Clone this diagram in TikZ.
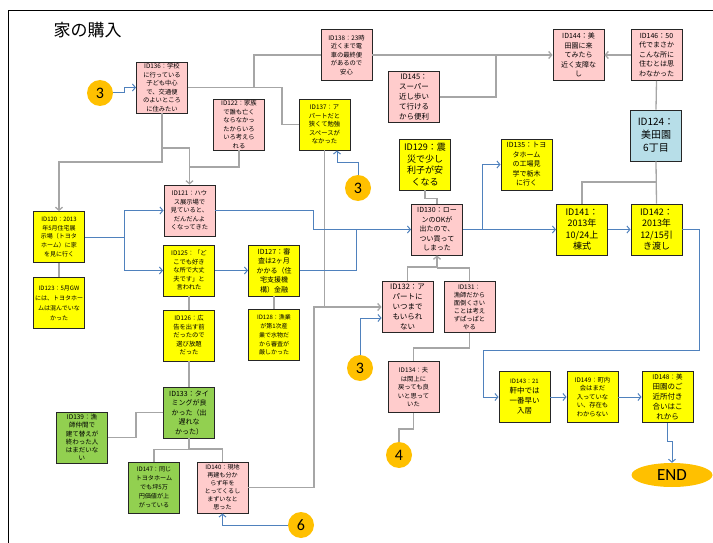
\documentclass[tikz,border=0pt]{standalone}
\usepackage{fontspec}
\setmainfont{Noto Sans CJK JP}
\newfontfamily\calfont{Carlito}
\usetikzlibrary{arrows.meta,shapes.geometric}
\definecolor{boxpink}{HTML}{FFCCCC}
\definecolor{boxyellow}{HTML}{FFFF00}
\definecolor{boxgreen}{HTML}{92D050}
\definecolor{boxblue}{HTML}{B7DEE8}
\definecolor{numorange}{HTML}{FFC000}
\definecolor{linegray}{HTML}{A6A6A6}
\definecolor{lineblue}{HTML}{4F81BD}

\begin{document}
\begin{tikzpicture}[x=1pt,y=-1pt,
    >={Straight Barb[length=3pt,width=7pt]},
    box/.style={draw=black!85, line width=0.9pt, minimum width=51pt, minimum height=51pt,
        inner sep=0.5pt, align=center, font=\fontsize{6.3}{8.5}\selectfont},
    pinkbox/.style={box, fill=boxpink},
    yellowbox/.style={box, fill=boxyellow},
    greenbox/.style={box, fill=boxgreen},
    bluebox/.style={box, fill=boxblue},
    fmid/.style={font=\fontsize{7.5}{10}\selectfont},
    fbig/.style={font=\fontsize{9}{11.5}\selectfont},
    num/.style={circle, fill=numorange, minimum size=26pt, inner sep=0pt,
        font=\calfont\fontsize{16}{16}\selectfont},
    gline/.style={draw=linegray, line width=1.3pt},
    bline/.style={draw=lineblue, line width=1pt}]
    \useasboundingbox (0,0) rectangle (713,543);

    % Frame and title
    \draw[line width=1pt] (8,543) -- (8,11) -- (713,11);
    \node[anchor=west, font=\fontsize{17}{17}\selectfont] (title) at (50,30) {家の購入};

    % Top row
    \node[pinkbox] (id136) at (162,87.5) {ID136：学校\\に行っている\\子ども中心\\で、交通便\\のよいところ\\に住みたい};
    \node[pinkbox] (id138) at (346.5,55) {ID138：23時\\近くまで電\\車の最終便\\があるので\\安心};
    \node[pinkbox, fmid] (id145) at (414,97) {ID145：\\スーパー\\近し歩い\\て行ける\\から便利};
    \node[pinkbox] (id122) at (239,124.5) {ID122：家族\\で誰も亡く\\ならなかっ\\たからいろ\\いろ考えら\\れる};
    \node[yellowbox] (id137) at (324.5,124.5) {ID137：ア\\パートだと\\狭くて勉強\\スペースが\\なかった};
    \node[pinkbox, font=\fontsize{7}{9.5}\selectfont] (id144) at (578.5,55) {ID144：美\\田園に来\\てみたら\\近く支障な\\し};
    \node[pinkbox, font=\fontsize{7}{9.5}\selectfont] (id146) at (656.5,55) {ID146：50\\代でまさか\\こんな所に\\住むとは思\\わなかった};
    \node[bluebox, font=\fontsize{10}{13}\selectfont] (id124) at (656,135.5) {ID124：\\美田園\\6丁目};
    \node[yellowbox, fbig] (id129) at (425,164.5) {ID129：震\\災で少し\\利子が安\\くなる};
    \node[yellowbox, font=\fontsize{7}{9.5}\selectfont] (id135) at (526.5,164.5) {ID135：トヨ\\タホーム\\の工場見\\学で栃木\\に行く};

    % Middle rows
    \node[yellowbox, font=\fontsize{6}{8.8}\selectfont] (id120) at (59,237) {ID120：2013\\年5月住宅展\\示場（トヨタ\\ホーム）に家\\を見に行く};
    \node[yellowbox, font=\fontsize{6}{10}\selectfont] (id123) at (59,303) {ID123：5月GW\\には、トヨタホー\\ムは混んでいな\\かった};
    \node[pinkbox] (id121) at (189.5,210.5) {ID121：ハウ\\ス展示場で\\見ていると、\\だんだんよ\\くなってきた};
    \node[yellowbox] (id125) at (189,270.5) {ID125：「ど\\こでも好き\\な所で大丈\\夫です」と\\言われた};
    \node[yellowbox] (id126) at (189,335.5) {ID126：広\\告を出す前\\だったので\\選び放題\\だった};
    \node[yellowbox, font=\fontsize{7}{9.5}\selectfont] (id127) at (274,270.5) {ID127：審\\査は2ヶ月\\かかる（住\\宅支援機\\構）金融};
    \node[yellowbox, font=\fontsize{6}{8.8}\selectfont] (id128) at (274,335) {ID128：漁業\\が第1次産\\業で水物だ\\から審査が\\厳しかった};
    \node[pinkbox, font=\fontsize{7}{9.5}\selectfont] (id130) at (437,229.5) {ID130：ロー\\ンのOKが\\出たので、\\つい買って\\しまった};
    \node[yellowbox, fbig] (id141) at (582,229.5) {ID141：\\2013年\\10/24上\\棟式};
    \node[yellowbox, fbig] (id142) at (656.5,229.5) {ID142：\\2013年\\12/15引\\き渡し};
    \node[pinkbox, fmid] (id132) at (407.5,307) {ID132：ア\\パートに\\いつまで\\もいられ\\ない};
    \node[pinkbox, font=\fontsize{6.3}{8}\selectfont] (id131) at (469.5,307) {ID131：\\漁師だから\\面倒くさい\\ことは考え\\ずぱっぱと\\やる};
    \node[pinkbox] (id134) at (413.5,387) {ID134：夫\\は閖上に\\戻っても良\\いと思って\\いた};

    % Bottom rows
    \node[greenbox, font=\fontsize{7}{9.5}\selectfont] (id133) at (189,412.5) {ID133：タイ\\ミングが良\\かった（出\\遅れな\\かった）};
    \node[greenbox, font=\fontsize{6.5}{8.3}\selectfont] (id139) at (82,437.5) {ID139：漁\\師仲間で\\建て替えが\\終わった人\\はまだいな\\い};
    \node[greenbox, font=\fontsize{6.1}{9}\selectfont] (id147) at (154,487.5) {ID147：同じ\\トヨタホーム\\でも坪5万\\円価値が上\\がっている};
    \node[pinkbox, font=\fontsize{6.1}{8}\selectfont] (id140) at (222.5,487.5) {ID140：現地\\再建も分か\\らず年を\\とってくるし\\まずいなと\\思った};
    \node[yellowbox, fmid] (id143) at (524.5,397) {{\fontsize{6}{8}\selectfont ID143：21}\\軒中では\\一番早い\\入居};
    \node[yellowbox] (id149) at (592.5,397) {ID149：町内\\会はまだ\\入っていな\\い、存在も\\わからない};
    \node[yellowbox, fmid] (id148) at (667.5,397) {{\fontsize{6.5}{8}\selectfont ID148：美}\\田園のご\\近所付き\\合いはこ\\れから};
    \node[ellipse, fill=numorange, minimum width=81pt, minimum height=24pt, inner sep=0pt,
        font=\calfont\fontsize{17}{17}\selectfont] (endnode) at (672,475) {END};

    % Numbered circles
    \node[num] (c3a) at (100,93) {3};
    \node[num] (c3b) at (358,188) {3};
    \node[num] (c3c) at (360,368) {3};
    \node[num] (c4) at (399,455) {4};
    \node[num] (c6) at (301,525) {6};

    % Gray connectors
    \draw[gline] (id136.east) -- (282,87.5) |- (id137.west);
    \draw[gline] (254,87.5) |- (id138.west);
    \draw[gline,->] (id138.east) -- (id144.west);
    \draw[gline] (id145.east) -| (496,55);
    \draw[gline,->] (id146.west) -- (id144.east);
    \draw[gline] (id124.north) -- (id146.south);
    \draw[gline] (id124.south) -- (id142.north);
    \draw[gline] (656,182) -| (id141.north);
    \draw[gline,->] (id136.south) -- (162,162) -| (id120.north);
    \draw[gline,->] (162,148) -| (id121.north);
    \draw[gline] (id122.south) |- (189.5,167);
    \draw[gline,->] (id137.south) |- (id132.west);
    \draw[gline] (id140.east) -| (314,307) -- (324.5,307);
    \draw[gline] (id129.south) -- ++(0,8) -| (id130.north);
    \draw[gline,->] (id132.north) -- ++(0,-14) -| (id130.south);
    \draw[gline] (id131.north) |- (437,268);
    \draw[gline] (id131.south) -- ++(0,15) -| (id134.north);
    \draw[gline] (id134.south) -- ++(0,16) -| (c4.north);
    \draw[gline] (id120.south) -- (id123.north);
    \draw[gline] (id125.south) -- (id126.north);
    \draw[gline] (id127.south) -- (id128.north);
    \draw[gline] (id126.south) -- (id133.north);
    \draw[gline] (id133.west) -- (136,412.5) |- (id139.east);
    \draw[gline] (id133.south) -- ++(0,11) -| (id147.north);
    \draw[gline] (189,449) -| (id140.north);

    % Blue connectors
    \draw[bline,->] (c3a.east) -- (124,93) |- (id136.west);
    \draw[bline,->] (c3b.north) -- ++(0,-12) -| ([xshift=12.5pt]id137.south);
    \draw[bline,->] (c3c.north) |- ([yshift=-11pt]id132.west);
    \draw[bline,->] (c6.west) -| (id140.south);
    \draw[bline,->] (id120.east) -- (124,237) |- (id121.west);
    \draw[bline,->] (124,237) |- (id125.west);
    \draw[bline,->] (id125.east) -- (id127.west);
    \draw[bline,->] (id121.east) -- (313,210.5) |- (id130.west);
    \draw[bline] (id127.east) -| (356,229.5);
    \draw[bline,->] (id130.east) -- (482,229.5) |- (id135.west);
    \draw[bline,->] (482,229.5) -- (id141.west);
    \draw[bline,->] (id141.east) -- (id142.west);
    \draw[bline,->] (id142.east) -- (699,229.5) -- (699,350) -- (483,350) |- (id143.west);
    \draw[bline,->] (id143.east) -- (id149.west);
    \draw[bline,->] (id149.east) -- (id148.west);
    \draw[bline,->] (id148.south) -- ++(0,19) -| (endnode.north);
\end{tikzpicture}
\end{document}
